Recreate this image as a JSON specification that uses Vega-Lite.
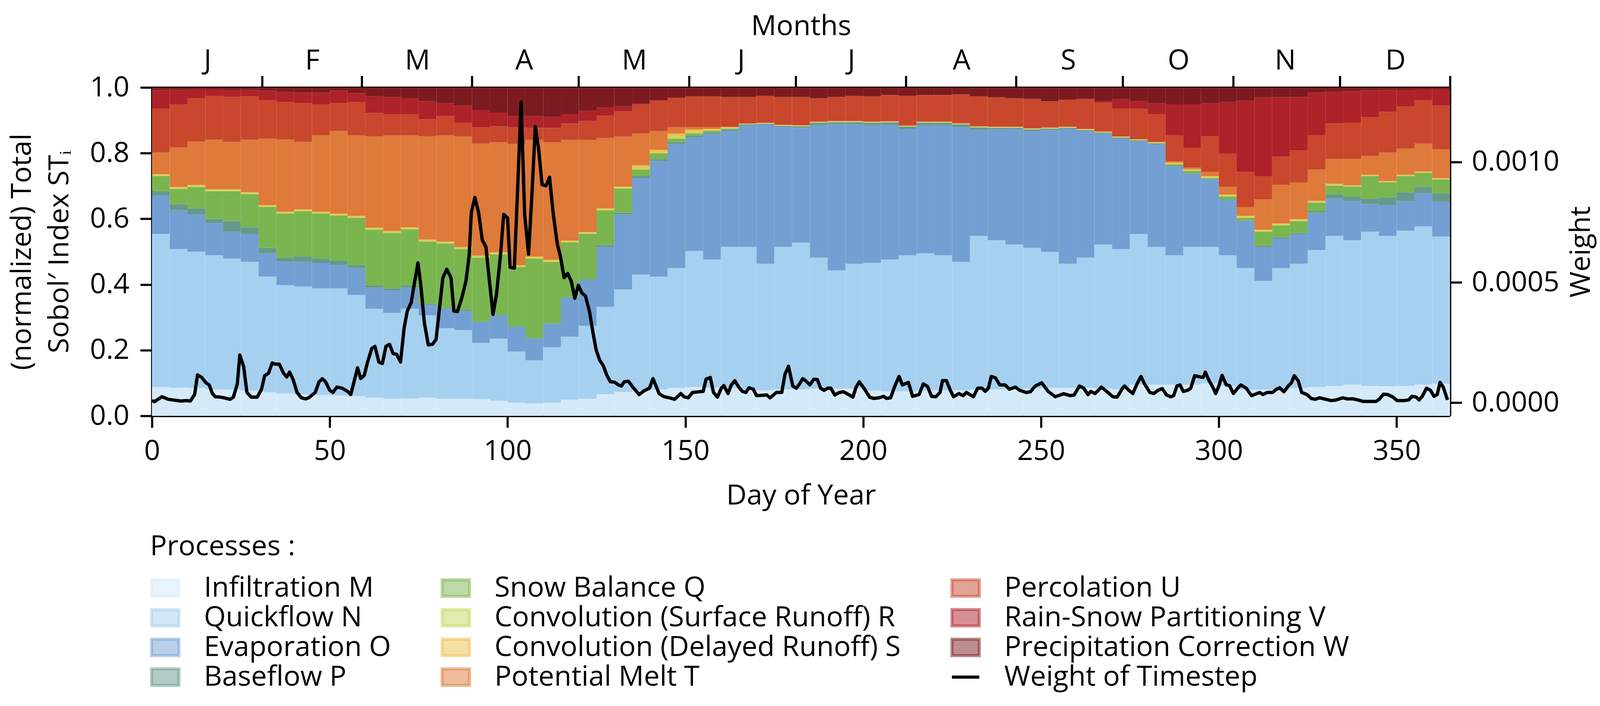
{
  "$schema": "https://vega.github.io/schema/vega-lite/v6.json",
  "width": 3323,
  "height": 841,
  "autosize": {"type": "none"},
  "padding": {"left": 389, "top": 224, "right": 604, "bottom": 743},
  "background": "white",
  "config": {
    "font": "Open Sans",
    "view": {"stroke": null},
    "axis": {
      "domainColor": "#000000", "domainWidth": 5.5,
      "tickColor": "#000000", "tickWidth": 5.5, "tickSize": 30,
      "labelFont": "Open Sans", "labelFontSize": 72, "labelColor": "#000000", "labelFlush": false, "labelLimit": 1000,
      "titleFont": "Open Sans", "titleFontSize": 72, "titleFontWeight": "normal", "titleColor": "#000000", "titleLimit": 2000,
      "grid": false
    }
  },
  "datasets": {
    "procs": [
      {"k": "M", "p": "Infiltration M", "o": 1},
      {"k": "N", "p": "Quickflow N", "o": 2},
      {"k": "O", "p": "Evaporation O", "o": 3},
      {"k": "P", "p": "Baseflow P", "o": 4},
      {"k": "Q", "p": "Snow Balance Q", "o": 5},
      {"k": "R", "p": "Convolution (Surface Runoff) R", "o": 6},
      {"k": "S", "p": "Convolution (Delayed Runoff) S", "o": 7},
      {"k": "T", "p": "Potential Melt T", "o": 8},
      {"k": "U", "p": "Percolation U", "o": 9},
      {"k": "V", "p": "Rain-Snow Partitioning V", "o": 10},
      {"k": "W", "p": "Precipitation Correction W", "o": 11}
    ],
    "sobol": [
      {"d0": 0, "d1": 5, "M": 0.088, "N": 0.466, "O": 0.117, "P": 0.013, "Q": 0.046, "R": 0.003, "S": 0.003, "T": 0.066, "U": 0.133, "V": 0.057, "W": 0.008},
      {"d0": 5, "d1": 10, "M": 0.086, "N": 0.422, "O": 0.118, "P": 0.019, "Q": 0.046, "R": 0.003, "S": 0.003, "T": 0.121, "U": 0.130, "V": 0.044, "W": 0.008},
      {"d0": 10, "d1": 15, "M": 0.085, "N": 0.415, "O": 0.113, "P": 0.019, "Q": 0.065, "R": 0.003, "S": 0.003, "T": 0.133, "U": 0.132, "V": 0.026, "W": 0.006},
      {"d0": 15, "d1": 20, "M": 0.081, "N": 0.408, "O": 0.098, "P": 0.013, "Q": 0.084, "R": 0.003, "S": 0.003, "T": 0.151, "U": 0.134, "V": 0.019, "W": 0.006},
      {"d0": 20, "d1": 25, "M": 0.080, "N": 0.399, "O": 0.082, "P": 0.032, "Q": 0.091, "R": 0.003, "S": 0.003, "T": 0.144, "U": 0.137, "V": 0.022, "W": 0.007},
      {"d0": 25, "d1": 30, "M": 0.077, "N": 0.392, "O": 0.085, "P": 0.020, "Q": 0.101, "R": 0.003, "S": 0.003, "T": 0.160, "U": 0.132, "V": 0.019, "W": 0.008},
      {"d0": 30, "d1": 35, "M": 0.072, "N": 0.352, "O": 0.071, "P": 0.017, "Q": 0.124, "R": 0.003, "S": 0.003, "T": 0.202, "U": 0.118, "V": 0.028, "W": 0.010},
      {"d0": 35, "d1": 40, "M": 0.068, "N": 0.330, "O": 0.071, "P": 0.013, "Q": 0.134, "R": 0.003, "S": 0.003, "T": 0.220, "U": 0.113, "V": 0.031, "W": 0.014},
      {"d0": 40, "d1": 45, "M": 0.065, "N": 0.329, "O": 0.075, "P": 0.017, "Q": 0.137, "R": 0.003, "S": 0.003, "T": 0.205, "U": 0.118, "V": 0.032, "W": 0.016},
      {"d0": 45, "d1": 50, "M": 0.064, "N": 0.324, "O": 0.078, "P": 0.013, "Q": 0.137, "R": 0.003, "S": 0.003, "T": 0.232, "U": 0.094, "V": 0.036, "W": 0.016},
      {"d0": 50, "d1": 55, "M": 0.062, "N": 0.326, "O": 0.072, "P": 0.013, "Q": 0.137, "R": 0.003, "S": 0.003, "T": 0.252, "U": 0.084, "V": 0.038, "W": 0.010},
      {"d0": 55, "d1": 60, "M": 0.060, "N": 0.308, "O": 0.082, "P": 0.010, "Q": 0.143, "R": 0.003, "S": 0.003, "T": 0.245, "U": 0.101, "V": 0.028, "W": 0.017},
      {"d0": 60, "d1": 65, "M": 0.055, "N": 0.271, "O": 0.065, "P": 0.007, "Q": 0.169, "R": 0.003, "S": 0.003, "T": 0.278, "U": 0.071, "V": 0.051, "W": 0.027},
      {"d0": 65, "d1": 70, "M": 0.052, "N": 0.262, "O": 0.069, "P": 0.005, "Q": 0.169, "R": 0.003, "S": 0.003, "T": 0.291, "U": 0.065, "V": 0.052, "W": 0.029},
      {"d0": 70, "d1": 75, "M": 0.053, "N": 0.273, "O": 0.065, "P": 0.005, "Q": 0.172, "R": 0.003, "S": 0.003, "T": 0.280, "U": 0.065, "V": 0.049, "W": 0.032},
      {"d0": 75, "d1": 80, "M": 0.055, "N": 0.251, "O": 0.033, "P": 0.003, "Q": 0.189, "R": 0.003, "S": 0.003, "T": 0.314, "U": 0.052, "V": 0.055, "W": 0.042},
      {"d0": 80, "d1": 85, "M": 0.052, "N": 0.215, "O": 0.059, "P": 0.003, "Q": 0.196, "R": 0.003, "S": 0.003, "T": 0.323, "U": 0.059, "V": 0.039, "W": 0.048},
      {"d0": 85, "d1": 90, "M": 0.052, "N": 0.209, "O": 0.058, "P": 0.004, "Q": 0.185, "R": 0.003, "S": 0.003, "T": 0.337, "U": 0.042, "V": 0.052, "W": 0.055},
      {"d0": 90, "d1": 95, "M": 0.051, "N": 0.171, "O": 0.064, "P": 0.002, "Q": 0.194, "R": 0.003, "S": 0.003, "T": 0.341, "U": 0.049, "V": 0.053, "W": 0.069},
      {"d0": 95, "d1": 100, "M": 0.046, "N": 0.189, "O": 0.071, "P": 0.003, "Q": 0.183, "R": 0.003, "S": 0.003, "T": 0.335, "U": 0.049, "V": 0.042, "W": 0.076},
      {"d0": 100, "d1": 105, "M": 0.040, "N": 0.156, "O": 0.075, "P": 0.001, "Q": 0.181, "R": 0.003, "S": 0.003, "T": 0.369, "U": 0.052, "V": 0.033, "W": 0.087},
      {"d0": 105, "d1": 110, "M": 0.038, "N": 0.131, "O": 0.066, "P": 0.002, "Q": 0.242, "R": 0.003, "S": 0.003, "T": 0.355, "U": 0.037, "V": 0.036, "W": 0.087},
      {"d0": 110, "d1": 115, "M": 0.040, "N": 0.169, "O": 0.071, "P": 0.002, "Q": 0.187, "R": 0.003, "S": 0.003, "T": 0.358, "U": 0.044, "V": 0.033, "W": 0.090},
      {"d0": 115, "d1": 120, "M": 0.049, "N": 0.192, "O": 0.118, "P": 0.002, "Q": 0.167, "R": 0.003, "S": 0.003, "T": 0.306, "U": 0.050, "V": 0.029, "W": 0.081},
      {"d0": 120, "d1": 125, "M": 0.052, "N": 0.222, "O": 0.140, "P": 0.003, "Q": 0.137, "R": 0.003, "S": 0.003, "T": 0.280, "U": 0.058, "V": 0.031, "W": 0.071},
      {"d0": 125, "d1": 130, "M": 0.066, "N": 0.266, "O": 0.183, "P": 0.005, "Q": 0.106, "R": 0.003, "S": 0.003, "T": 0.214, "U": 0.068, "V": 0.025, "W": 0.061},
      {"d0": 130, "d1": 135, "M": 0.073, "N": 0.312, "O": 0.228, "P": 0.006, "Q": 0.073, "R": 0.003, "S": 0.003, "T": 0.153, "U": 0.076, "V": 0.015, "W": 0.058},
      {"d0": 135, "d1": 140, "M": 0.077, "N": 0.353, "O": 0.294, "P": 0.006, "Q": 0.020, "R": 0.006, "S": 0.007, "T": 0.097, "U": 0.088, "V": 0.003, "W": 0.049},
      {"d0": 140, "d1": 145, "M": 0.081, "N": 0.343, "O": 0.352, "P": 0.006, "Q": 0.017, "R": 0.004, "S": 0.007, "T": 0.057, "U": 0.093, "V": 0.002, "W": 0.038},
      {"d0": 145, "d1": 150, "M": 0.085, "N": 0.365, "O": 0.378, "P": 0.006, "Q": 0.010, "R": 0.007, "S": 0.008, "T": 0.020, "U": 0.090, "V": 0.000, "W": 0.031},
      {"d0": 150, "d1": 155, "M": 0.088, "N": 0.414, "O": 0.347, "P": 0.005, "Q": 0.006, "R": 0.006, "S": 0.006, "T": 0.008, "U": 0.093, "V": 0.000, "W": 0.027},
      {"d0": 155, "d1": 160, "M": 0.086, "N": 0.390, "O": 0.383, "P": 0.005, "Q": 0.004, "R": 0.003, "S": 0.003, "T": 0.006, "U": 0.093, "V": 0.000, "W": 0.027},
      {"d0": 160, "d1": 165, "M": 0.085, "N": 0.430, "O": 0.353, "P": 0.004, "Q": 0.003, "R": 0.002, "S": 0.002, "T": 0.002, "U": 0.090, "V": 0.000, "W": 0.029},
      {"d0": 165, "d1": 170, "M": 0.081, "N": 0.434, "O": 0.368, "P": 0.004, "Q": 0.001, "R": 0.001, "S": 0.001, "T": 0.000, "U": 0.081, "V": 0.000, "W": 0.029},
      {"d0": 170, "d1": 175, "M": 0.078, "N": 0.385, "O": 0.424, "P": 0.002, "Q": 0.001, "R": 0.001, "S": 0.001, "T": 0.000, "U": 0.083, "V": 0.000, "W": 0.025},
      {"d0": 175, "d1": 180, "M": 0.081, "N": 0.434, "O": 0.365, "P": 0.003, "Q": 0.001, "R": 0.001, "S": 0.001, "T": 0.000, "U": 0.085, "V": 0.000, "W": 0.029},
      {"d0": 180, "d1": 185, "M": 0.081, "N": 0.447, "O": 0.349, "P": 0.004, "Q": 0.001, "R": 0.001, "S": 0.001, "T": 0.001, "U": 0.086, "V": 0.000, "W": 0.029},
      {"d0": 185, "d1": 190, "M": 0.083, "N": 0.399, "O": 0.403, "P": 0.007, "Q": 0.001, "R": 0.001, "S": 0.001, "T": 0.001, "U": 0.071, "V": 0.000, "W": 0.033},
      {"d0": 190, "d1": 195, "M": 0.083, "N": 0.360, "O": 0.445, "P": 0.006, "Q": 0.001, "R": 0.001, "S": 0.001, "T": 0.001, "U": 0.073, "V": 0.000, "W": 0.029},
      {"d0": 195, "d1": 200, "M": 0.083, "N": 0.380, "O": 0.425, "P": 0.006, "Q": 0.001, "R": 0.001, "S": 0.001, "T": 0.001, "U": 0.076, "V": 0.000, "W": 0.026},
      {"d0": 200, "d1": 205, "M": 0.077, "N": 0.389, "O": 0.419, "P": 0.007, "Q": 0.001, "R": 0.001, "S": 0.001, "T": 0.001, "U": 0.077, "V": 0.000, "W": 0.027},
      {"d0": 205, "d1": 210, "M": 0.075, "N": 0.401, "O": 0.411, "P": 0.006, "Q": 0.001, "R": 0.001, "S": 0.001, "T": 0.001, "U": 0.080, "V": 0.000, "W": 0.023},
      {"d0": 210, "d1": 215, "M": 0.075, "N": 0.414, "O": 0.385, "P": 0.006, "Q": 0.001, "R": 0.001, "S": 0.001, "T": 0.001, "U": 0.091, "V": 0.000, "W": 0.025},
      {"d0": 215, "d1": 220, "M": 0.078, "N": 0.417, "O": 0.390, "P": 0.007, "Q": 0.001, "R": 0.001, "S": 0.001, "T": 0.001, "U": 0.081, "V": 0.000, "W": 0.023},
      {"d0": 220, "d1": 225, "M": 0.078, "N": 0.411, "O": 0.396, "P": 0.007, "Q": 0.001, "R": 0.001, "S": 0.001, "T": 0.001, "U": 0.081, "V": 0.000, "W": 0.023},
      {"d0": 225, "d1": 230, "M": 0.078, "N": 0.391, "O": 0.411, "P": 0.007, "Q": 0.001, "R": 0.001, "S": 0.001, "T": 0.001, "U": 0.088, "V": 0.000, "W": 0.021},
      {"d0": 230, "d1": 235, "M": 0.080, "N": 0.468, "O": 0.322, "P": 0.008, "Q": 0.001, "R": 0.001, "S": 0.001, "T": 0.001, "U": 0.091, "V": 0.000, "W": 0.027},
      {"d0": 235, "d1": 240, "M": 0.081, "N": 0.454, "O": 0.337, "P": 0.005, "Q": 0.001, "R": 0.001, "S": 0.001, "T": 0.001, "U": 0.089, "V": 0.000, "W": 0.030},
      {"d0": 240, "d1": 245, "M": 0.081, "N": 0.441, "O": 0.352, "P": 0.003, "Q": 0.001, "R": 0.001, "S": 0.001, "T": 0.001, "U": 0.086, "V": 0.000, "W": 0.033},
      {"d0": 245, "d1": 250, "M": 0.083, "N": 0.429, "O": 0.356, "P": 0.004, "Q": 0.001, "R": 0.001, "S": 0.001, "T": 0.001, "U": 0.089, "V": 0.000, "W": 0.035},
      {"d0": 250, "d1": 255, "M": 0.085, "N": 0.414, "O": 0.371, "P": 0.004, "Q": 0.001, "R": 0.001, "S": 0.001, "T": 0.001, "U": 0.080, "V": 0.000, "W": 0.042},
      {"d0": 255, "d1": 260, "M": 0.085, "N": 0.378, "O": 0.411, "P": 0.003, "Q": 0.001, "R": 0.001, "S": 0.001, "T": 0.001, "U": 0.082, "V": 0.000, "W": 0.037},
      {"d0": 260, "d1": 265, "M": 0.085, "N": 0.397, "O": 0.384, "P": 0.004, "Q": 0.001, "R": 0.001, "S": 0.001, "T": 0.001, "U": 0.091, "V": 0.000, "W": 0.035},
      {"d0": 265, "d1": 270, "M": 0.083, "N": 0.439, "O": 0.337, "P": 0.003, "Q": 0.001, "R": 0.001, "S": 0.001, "T": 0.001, "U": 0.087, "V": 0.005, "W": 0.042},
      {"d0": 270, "d1": 275, "M": 0.081, "N": 0.427, "O": 0.336, "P": 0.003, "Q": 0.001, "R": 0.001, "S": 0.001, "T": 0.001, "U": 0.084, "V": 0.029, "W": 0.036},
      {"d0": 275, "d1": 280, "M": 0.095, "N": 0.459, "O": 0.282, "P": 0.002, "Q": 0.002, "R": 0.001, "S": 0.001, "T": 0.001, "U": 0.092, "V": 0.023, "W": 0.042},
      {"d0": 280, "d1": 285, "M": 0.095, "N": 0.420, "O": 0.311, "P": 0.003, "Q": 0.002, "R": 0.001, "S": 0.001, "T": 0.001, "U": 0.085, "V": 0.033, "W": 0.048},
      {"d0": 285, "d1": 290, "M": 0.095, "N": 0.394, "O": 0.270, "P": 0.002, "Q": 0.005, "R": 0.002, "S": 0.003, "T": 0.004, "U": 0.079, "V": 0.095, "W": 0.051},
      {"d0": 290, "d1": 295, "M": 0.095, "N": 0.420, "O": 0.222, "P": 0.002, "Q": 0.007, "R": 0.002, "S": 0.003, "T": 0.005, "U": 0.059, "V": 0.134, "W": 0.051},
      {"d0": 295, "d1": 300, "M": 0.099, "N": 0.416, "O": 0.205, "P": 0.002, "Q": 0.002, "R": 0.003, "S": 0.003, "T": 0.013, "U": 0.108, "V": 0.101, "W": 0.048},
      {"d0": 300, "d1": 305, "M": 0.091, "N": 0.398, "O": 0.169, "P": 0.002, "Q": 0.008, "R": 0.003, "S": 0.003, "T": 0.024, "U": 0.101, "V": 0.156, "W": 0.045},
      {"d0": 305, "d1": 310, "M": 0.080, "N": 0.370, "O": 0.143, "P": 0.002, "Q": 0.008, "R": 0.003, "S": 0.003, "T": 0.027, "U": 0.107, "V": 0.217, "W": 0.040},
      {"d0": 310, "d1": 315, "M": 0.080, "N": 0.331, "O": 0.104, "P": 0.003, "Q": 0.043, "R": 0.003, "S": 0.003, "T": 0.093, "U": 0.070, "V": 0.240, "W": 0.030},
      {"d0": 315, "d1": 320, "M": 0.081, "N": 0.369, "O": 0.091, "P": 0.003, "Q": 0.036, "R": 0.003, "S": 0.003, "T": 0.118, "U": 0.085, "V": 0.182, "W": 0.029},
      {"d0": 320, "d1": 325, "M": 0.085, "N": 0.378, "O": 0.091, "P": 0.003, "Q": 0.036, "R": 0.003, "S": 0.003, "T": 0.112, "U": 0.097, "V": 0.163, "W": 0.029},
      {"d0": 325, "d1": 330, "M": 0.088, "N": 0.417, "O": 0.114, "P": 0.004, "Q": 0.026, "R": 0.003, "S": 0.003, "T": 0.095, "U": 0.104, "V": 0.130, "W": 0.016},
      {"d0": 330, "d1": 335, "M": 0.091, "N": 0.457, "O": 0.114, "P": 0.013, "Q": 0.026, "R": 0.003, "S": 0.003, "T": 0.075, "U": 0.108, "V": 0.098, "W": 0.012},
      {"d0": 335, "d1": 340, "M": 0.095, "N": 0.440, "O": 0.120, "P": 0.013, "Q": 0.030, "R": 0.002, "S": 0.002, "T": 0.080, "U": 0.111, "V": 0.096, "W": 0.011},
      {"d0": 340, "d1": 345, "M": 0.091, "N": 0.470, "O": 0.084, "P": 0.017, "Q": 0.068, "R": 0.002, "S": 0.002, "T": 0.058, "U": 0.117, "V": 0.082, "W": 0.009},
      {"d0": 345, "d1": 350, "M": 0.090, "N": 0.458, "O": 0.094, "P": 0.023, "Q": 0.046, "R": 0.002, "S": 0.002, "T": 0.087, "U": 0.124, "V": 0.066, "W": 0.008},
      {"d0": 350, "d1": 355, "M": 0.091, "N": 0.473, "O": 0.091, "P": 0.026, "Q": 0.049, "R": 0.002, "S": 0.002, "T": 0.080, "U": 0.128, "V": 0.051, "W": 0.007},
      {"d0": 355, "d1": 360, "M": 0.095, "N": 0.482, "O": 0.101, "P": 0.019, "Q": 0.043, "R": 0.002, "S": 0.002, "T": 0.085, "U": 0.133, "V": 0.032, "W": 0.006},
      {"d0": 360, "d1": 365, "M": 0.098, "N": 0.448, "O": 0.106, "P": 0.026, "Q": 0.042, "R": 0.002, "S": 0.002, "T": 0.088, "U": 0.133, "V": 0.049, "W": 0.006}
    ],
    "weight": [
      {"day": 0, "w": 0.0000085}, {"day": 0.7, "w": 0.0000041}, {"day": 2.8, "w": 0.0000245}, {"day": 4.6, "w": 0.0000138},
      {"day": 6.3, "w": 0.0000103}, {"day": 8.1, "w": 0.0000068}, {"day": 9.6, "w": 0.0000085}, {"day": 10.8, "w": 0.0000068},
      {"day": 12.0, "w": 0.0000335}, {"day": 12.8, "w": 0.0001154}, {"day": 14.0, "w": 0.0001047}, {"day": 15.2, "w": 0.0000824},
      {"day": 16.1, "w": 0.0000735}, {"day": 17.0, "w": 0.0000379}, {"day": 17.8, "w": 0.0000245}, {"day": 19.3, "w": 0.0000228},
      {"day": 20.5, "w": 0.0000192}, {"day": 22.0, "w": 0.0000139}, {"day": 22.9, "w": 0.0000228}, {"day": 24.0, "w": 0.000078},
      {"day": 24.7, "w": 0.000198}, {"day": 25.8, "w": 0.000149}, {"day": 26.7, "w": 0.0000424}, {"day": 27.9, "w": 0.0000228},
      {"day": 29.6, "w": 0.0000228}, {"day": 30.8, "w": 0.0000557}, {"day": 31.7, "w": 0.000112}, {"day": 32.8, "w": 0.0001225},
      {"day": 33.8, "w": 0.000165}, {"day": 34.6, "w": 0.00016}, {"day": 35.8, "w": 0.00016}, {"day": 37.0, "w": 0.0001225},
      {"day": 37.9, "w": 0.0001065}, {"day": 38.7, "w": 0.000127}, {"day": 39.7, "w": 0.0000958}, {"day": 40.8, "w": 0.0000424},
      {"day": 42.0, "w": 0.0000201}, {"day": 43.2, "w": 0.0000157}, {"day": 44.1, "w": 0.0000201}, {"day": 45.9, "w": 0.0000424},
      {"day": 47.0, "w": 0.000087}, {"day": 47.9, "w": 0.0000993}, {"day": 48.8, "w": 0.000087}, {"day": 50.0, "w": 0.0000512},
      {"day": 50.9, "w": 0.0000424}, {"day": 52.0, "w": 0.0000646}, {"day": 53.5, "w": 0.0000601}, {"day": 55.0, "w": 0.0000468},
      {"day": 55.9, "w": 0.0000335}, {"day": 56.8, "w": 0.0000851}, {"day": 57.8, "w": 0.0001448}, {"day": 58.7, "w": 0.0001002},
      {"day": 59.7, "w": 0.0001136}, {"day": 60.6, "w": 0.000167}, {"day": 61.8, "w": 0.000225}, {"day": 62.7, "w": 0.000234},
      {"day": 63.8, "w": 0.000169}, {"day": 64.8, "w": 0.0001626}, {"day": 65.8, "w": 0.000234}, {"day": 66.8, "w": 0.0002426},
      {"day": 67.8, "w": 0.0002043}, {"day": 68.8, "w": 0.0002008}, {"day": 69.9, "w": 0.0001688}, {"day": 70.9, "w": 0.0003095},
      {"day": 71.8, "w": 0.0003807}, {"day": 72.9, "w": 0.0004163}, {"day": 73.7, "w": 0.0004876}, {"day": 74.8, "w": 0.000581},
      {"day": 75.6, "w": 0.0004876}, {"day": 76.6, "w": 0.0003318}, {"day": 77.7, "w": 0.00024}, {"day": 78.9, "w": 0.0002426},
      {"day": 79.9, "w": 0.0002631}, {"day": 80.9, "w": 0.0003985}, {"day": 81.8, "w": 0.0005187}, {"day": 82.9, "w": 0.0005543},
      {"day": 84.1, "w": 0.0005187}, {"day": 84.9, "w": 0.0003807}, {"day": 85.9, "w": 0.0003789}, {"day": 87.1, "w": 0.0004341},
      {"day": 88.3, "w": 0.0005054}, {"day": 89.2, "w": 0.0006123}, {"day": 89.8, "w": 0.0007904}, {"day": 90.8, "w": 0.0008527},
      {"day": 91.85, "w": 0.00079}, {"day": 92.9, "w": 0.000675}, {"day": 93.9, "w": 0.000648}, {"day": 94.9, "w": 0.000505},
      {"day": 95.9, "w": 0.000367}, {"day": 96.9, "w": 0.000452}, {"day": 98.0, "w": 0.000612}, {"day": 98.9, "w": 0.000782},
      {"day": 100.0, "w": 0.000768}, {"day": 100.7, "w": 0.000563}, {"day": 101.9, "w": 0.000559}, {"day": 102.8, "w": 0.00088},
      {"day": 103.8, "w": 0.001249}, {"day": 104.8, "w": 0.000782}, {"day": 105.9, "w": 0.000617}, {"day": 106.9, "w": 0.00088},
      {"day": 107.8, "w": 0.001147}, {"day": 108.7, "w": 0.001058}, {"day": 109.7, "w": 0.000906}, {"day": 110.8, "w": 0.000901},
      {"day": 111.8, "w": 0.000937}, {"day": 112.8, "w": 0.00079}, {"day": 114.0, "w": 0.000657}, {"day": 114.8, "w": 0.000612},
      {"day": 115.9, "w": 0.000519}, {"day": 116.9, "w": 0.000537}, {"day": 117.9, "w": 0.000505}, {"day": 118.9, "w": 0.000434},
      {"day": 119.9, "w": 0.000488}, {"day": 120.9, "w": 0.000456}, {"day": 121.9, "w": 0.000443}, {"day": 123.0, "w": 0.000381},
      {"day": 124.0, "w": 0.000292}, {"day": 124.9, "w": 0.00022}, {"day": 125.9, "w": 0.000176}, {"day": 126.9, "w": 0.000154},
      {"day": 127.9, "w": 0.000114}, {"day": 128.9, "w": 0.0000868}, {"day": 130.1, "w": 0.000085}, {"day": 131.2, "w": 0.0000735},
      {"day": 132.0, "w": 0.000069}, {"day": 132.8, "w": 0.0000868}, {"day": 134.0, "w": 0.0000886}, {"day": 135.2, "w": 0.0000646},
      {"day": 137.0, "w": 0.0000335}, {"day": 138.4, "w": 0.0000495}, {"day": 139.9, "w": 0.0000601}, {"day": 140.9, "w": 0.0001},
      {"day": 142.6, "w": 0.0000379}, {"day": 144.0, "w": 0.0000245}, {"day": 145.5, "w": 0.0000201}, {"day": 147.0, "w": 0.0000139},
      {"day": 148.7, "w": 0.0000379}, {"day": 149.6, "w": 0.0000245}, {"day": 150.8, "w": 0.0000201}, {"day": 152.0, "w": 0.0000424},
      {"day": 155.0, "w": 0.0000468}, {"day": 155.8, "w": 0.0000975}, {"day": 157.0, "w": 0.0001047}, {"day": 157.9, "w": 0.0000424},
      {"day": 159.0, "w": 0.0000228}, {"day": 160.1, "w": 0.0000601}, {"day": 160.8, "w": 0.000071}, {"day": 162.0, "w": 0.0000379},
      {"day": 162.9, "w": 0.0000735}, {"day": 163.9, "w": 0.0000913}, {"day": 165.0, "w": 0.0000646}, {"day": 166.0, "w": 0.0000468},
      {"day": 167.0, "w": 0.0000424}, {"day": 167.9, "w": 0.0000619}, {"day": 169.1, "w": 0.0000557}, {"day": 170.0, "w": 0.000029},
      {"day": 172.9, "w": 0.0000317}, {"day": 173.8, "w": 0.0000201}, {"day": 175.6, "w": 0.0000424}, {"day": 177.1, "w": 0.0000424},
      {"day": 178.0, "w": 0.000118}, {"day": 179.0, "w": 0.000151}, {"day": 180.2, "w": 0.000069}, {"day": 181.2, "w": 0.0000601},
      {"day": 182.1, "w": 0.0000779}, {"day": 183.0, "w": 0.0001}, {"day": 183.8, "w": 0.0000913}, {"day": 185.0, "w": 0.0000735},
      {"day": 186.1, "w": 0.0000976}, {"day": 187.1, "w": 0.0000958}, {"day": 188.0, "w": 0.0000601}, {"day": 189.0, "w": 0.0000513},
      {"day": 190.0, "w": 0.0000601}, {"day": 190.9, "w": 0.0000601}, {"day": 192.0, "w": 0.0000317}, {"day": 193.3, "w": 0.0000424},
      {"day": 194.5, "w": 0.000045}, {"day": 195.9, "w": 0.0000335}, {"day": 197.1, "w": 0.0000228}, {"day": 198.0, "w": 0.0000646},
      {"day": 198.9, "w": 0.0000869}, {"day": 200.4, "w": 0.0000557}, {"day": 201.8, "w": 0.0000228}, {"day": 203.0, "w": 0.0000175},
      {"day": 204.5, "w": 0.0000201}, {"day": 205.7, "w": 0.0000263}, {"day": 206.6, "w": 0.0000175}, {"day": 207.7, "w": 0.0000201},
      {"day": 208.9, "w": 0.0000691}, {"day": 210.1, "w": 0.0001092}, {"day": 211.0, "w": 0.0000735}, {"day": 212.7, "w": 0.0000842},
      {"day": 213.9, "w": 0.0000263}, {"day": 215.7, "w": 0.0000335}, {"day": 216.9, "w": 0.0000779}, {"day": 218.1, "w": 0.0000673},
      {"day": 219.2, "w": 0.0000263}, {"day": 220.4, "w": 0.0000245}, {"day": 221.6, "w": 0.0000424}, {"day": 222.3, "w": 0.0000913},
      {"day": 223.4, "w": 0.0000913}, {"day": 224.5, "w": 0.0000513}, {"day": 225.4, "w": 0.0000245}, {"day": 226.9, "w": 0.0000379},
      {"day": 228.1, "w": 0.000029}, {"day": 229.0, "w": 0.0000424}, {"day": 231.0, "w": 0.0000245}, {"day": 232.2, "w": 0.0000601},
      {"day": 233.4, "w": 0.0000601}, {"day": 234.3, "w": 0.0000468}, {"day": 235.2, "w": 0.0000601}, {"day": 236.0, "w": 0.000109},
      {"day": 237.2, "w": 0.000103}, {"day": 238.4, "w": 0.0000735}, {"day": 239.9, "w": 0.0000735}, {"day": 241.1, "w": 0.0000557},
      {"day": 242.8, "w": 0.0000646}, {"day": 244.0, "w": 0.0000513}, {"day": 245.8, "w": 0.0000424}, {"day": 247.0, "w": 0.000045},
      {"day": 248.4, "w": 0.0000691}, {"day": 250.2, "w": 0.0000824}, {"day": 252.0, "w": 0.0000468}, {"day": 254.0, "w": 0.0000245},
      {"day": 256.4, "w": 0.000037}, {"day": 258.2, "w": 0.000029}, {"day": 259.3, "w": 0.0000317}, {"day": 260.8, "w": 0.0000691},
      {"day": 262.0, "w": 0.0000601}, {"day": 263.2, "w": 0.0000335}, {"day": 264.0, "w": 0.0000468}, {"day": 265.2, "w": 0.0000379},
      {"day": 267.0, "w": 0.0000646}, {"day": 268.8, "w": 0.0000424}, {"day": 270.2, "w": 0.0000245}, {"day": 271.4, "w": 0.0000228},
      {"day": 272.9, "w": 0.0000601}, {"day": 273.5, "w": 0.000069}, {"day": 274.7, "w": 0.0000513}, {"day": 275.8, "w": 0.0000379},
      {"day": 277.0, "w": 0.0000779}, {"day": 278.1, "w": 0.000109}, {"day": 279.1, "w": 0.0000779}, {"day": 280.6, "w": 0.0000424},
      {"day": 281.7, "w": 0.0000379}, {"day": 282.9, "w": 0.0000513}, {"day": 284.1, "w": 0.0000584}, {"day": 285.3, "w": 0.0000317},
      {"day": 286.5, "w": 0.0000245}, {"day": 287.3, "w": 0.000029}, {"day": 288.2, "w": 0.0000691}, {"day": 289.1, "w": 0.0000735},
      {"day": 290.0, "w": 0.0000468}, {"day": 291.2, "w": 0.0000513}, {"day": 292.1, "w": 0.0000601}, {"day": 293.2, "w": 0.000112},
      {"day": 294.7, "w": 0.000107}, {"day": 295.6, "w": 0.000105}, {"day": 296.2, "w": 0.000127}, {"day": 297.1, "w": 0.0000958},
      {"day": 298.3, "w": 0.0000646}, {"day": 299.1, "w": 0.0000379}, {"day": 300.0, "w": 0.0000691}, {"day": 300.9, "w": 0.0001136},
      {"day": 302.1, "w": 0.0000735}, {"day": 303.0, "w": 0.000071}, {"day": 304.1, "w": 0.0000379}, {"day": 305.3, "w": 0.0000601},
      {"day": 306.2, "w": 0.0000735}, {"day": 307.7, "w": 0.0000601}, {"day": 309.2, "w": 0.000029}, {"day": 310.3, "w": 0.0000353},
      {"day": 311.5, "w": 0.0000424}, {"day": 312.4, "w": 0.0000335}, {"day": 313.6, "w": 0.0000424}, {"day": 315.1, "w": 0.0000424},
      {"day": 316.2, "w": 0.0000557}, {"day": 317.1, "w": 0.000062}, {"day": 318.3, "w": 0.000045}, {"day": 319.5, "w": 0.0000691},
      {"day": 320.4, "w": 0.0000824}, {"day": 321.2, "w": 0.000112}, {"day": 322.3, "w": 0.0000913}, {"day": 323.3, "w": 0.0000424},
      {"day": 324.8, "w": 0.0000335}, {"day": 326.0, "w": 0.0000175}, {"day": 327.1, "w": 0.0000139}, {"day": 328.3, "w": 0.0000201},
      {"day": 330.1, "w": 0.0000139}, {"day": 331.6, "w": 0.0000085}, {"day": 333.0, "w": 0.0000112}, {"day": 334.8, "w": 0.0000201},
      {"day": 336.0, "w": 0.0000157}, {"day": 337.8, "w": 0.0000157}, {"day": 339.0, "w": 0.0000112}, {"day": 340.7, "w": 0.000005},
      {"day": 342.5, "w": 0.000005}, {"day": 344.2, "w": 0.000005}, {"day": 345.1, "w": 0.0000139}, {"day": 346.3, "w": 0.0000353},
      {"day": 347.5, "w": 0.0000335}, {"day": 349.0, "w": 0.0000228}, {"day": 350.1, "w": 0.0000085}, {"day": 351.9, "w": 0.0000085},
      {"day": 353.4, "w": 0.0000112}, {"day": 354.3, "w": 0.0000263}, {"day": 355.5, "w": 0.0000228}, {"day": 356.3, "w": 0.0000112},
      {"day": 357.2, "w": 0.0000263}, {"day": 358.4, "w": 0.0000601}, {"day": 359.5, "w": 0.0000513}, {"day": 360.5, "w": 0.0000263},
      {"day": 361.4, "w": 0.0000335}, {"day": 362.2, "w": 0.0000842}, {"day": 363.1, "w": 0.0000646}, {"day": 364.3, "w": 0.0000112}
    ]
  },
  "layer": [
    {
      "data": {"name": "sobol"},
      "transform": [
        {"fold": ["M", "N", "O", "P", "Q", "R", "S", "T", "U", "V", "W"], "as": ["k", "v"]},
        {"lookup": "k", "from": {"data": {"name": "procs"}, "key": "k", "fields": ["p", "o"]}},
        {"stack": "v", "groupby": ["d0"], "sort": [{"field": "o", "order": "ascending"}], "as": ["y0", "y1"]}
      ],
      "mark": {"type": "bar"},
      "encoding": {
        "x": {
          "field": "d0", "type": "quantitative",
          "scale": {"domain": [0, 365], "nice": false, "zero": false},
          "axis": {
            "orient": "bottom",
            "values": [0, 50, 100, 150, 200, 250, 300, 350],
            "title": "Day of Year",
            "labelPadding": 25,
            "titlePadding": 43
          }
        },
        "x2": {"field": "d1"},
        "y": {
          "field": "y0", "type": "quantitative",
          "scale": {"domain": [0, 1], "nice": false},
          "axis": {
            "values": [0, 0.2, 0.4, 0.6, 0.8, 1],
            "format": ".1f",
            "title": ["(normalized) Total", "Sobol′ Index STᵢ"],
            "titleLineHeight": 96,
            "labelPadding": 28,
            "titlePadding": 40
          }
        },
        "y2": {"field": "y1"},
        "color": {
          "field": "p", "type": "nominal",
          "scale": {
            "domain": [
              "Infiltration M", "Quickflow N", "Evaporation O", "Baseflow P",
              "Snow Balance Q", "Convolution (Surface Runoff) R", "Convolution (Delayed Runoff) S", "Potential Melt T",
              "Percolation U", "Rain-Snow Partitioning V", "Precipitation Correction W", "Weight of Timestep"
            ],
            "range": [
              "#d5eaf9", "#a6d0ef", "#739fd2", "#66998b",
              "#7ab54f", "#c3d85c", "#eec04a", "#de7a3a",
              "#c8472d", "#ae2229", "#7b1b1f", "#000000"
            ]
          },
          "legend": {
            "title": "Processes :",
            "orient": "none",
            "legendX": -5,
            "legendY": 1141,
            "columns": 3,
            "direction": "vertical",
            "padding": 0,
            "titleFont": "Open Sans",
            "titleFontSize": 72,
            "titleFontWeight": "normal",
            "titleColor": "#000000",
            "titleLimit": 3000,
            "titlePadding": 30,
            "labelFont": "Open Sans",
            "labelFontSize": 72,
            "labelColor": "#000000",
            "labelLimit": 3000,
            "labelOffset": 60,
            "symbolSize": 4900,
            "symbolStrokeWidth": 8,
            "rowPadding": 0,
            "columnPadding": 115,
            "gridAlign": "each",
            "encode": {
              "symbols": {
                "update": {
                  "shape": {"signal": "datum.value === 'Weight of Timestep' ? 'M-1,0H1' : 'M-1,-0.6H1V0.6H-1Z'"},
                  "size": {"value": 4900},
                  "fill": {"scale": "color", "field": "value"},
                  "fillOpacity": {"signal": "datum.value === 'Weight of Timestep' ? 0 : 0.5"},
                  "stroke": {"scale": "color", "field": "value"},
                  "strokeOpacity": {"signal": "datum.value === 'Weight of Timestep' ? 1 : 0.5"},
                  "strokeWidth": {"value": 8},
                  "opacity": {"value": 1}
                }
              }
            }
          }
        }
      }
    },
    {
      "data": {"name": "weight"},
      "mark": {"type": "line", "strokeWidth": 8.5, "strokeJoin": "round"},
      "encoding": {
        "x": {
          "field": "day", "type": "quantitative",
          "scale": {"domain": [0, 365], "nice": false, "zero": false},
          "axis": {
            "orient": "top",
            "values": [31, 59, 90, 120, 151, 181, 212, 243, 273, 304, 334, 365],
            "labelExpr": "['J','F','M','A','M','J','J','A','S','O','N','D'][indexof([31,59,90,120,151,181,212,243,273,304,334,365], datum.value)]",
            "labelOffset": {"condition": {"test": "datum.value == 59", "value": -127}, "value": -140},
            "title": "Months",
            "labelPadding": 2,
            "titlePadding": 15
          }
        },
        "y": {
          "field": "w", "type": "quantitative",
          "scale": {"domain": [-0.000055, 0.00131], "nice": false, "zero": false},
          "axis": {
            "orient": "right",
            "values": [0, 0.0005, 0.001],
            "format": ".4f",
            "title": "Weight",
            "titleAngle": 270,
            "titleBaseline": "top",
            "labelPadding": 25,
            "titlePadding": 100
          }
        },
        "color": {"datum": "Weight of Timestep", "type": "nominal"}
      }
    }
  ],
  "resolve": {"scale": {"y": "independent"}, "axis": {"x": "independent"}}
}
